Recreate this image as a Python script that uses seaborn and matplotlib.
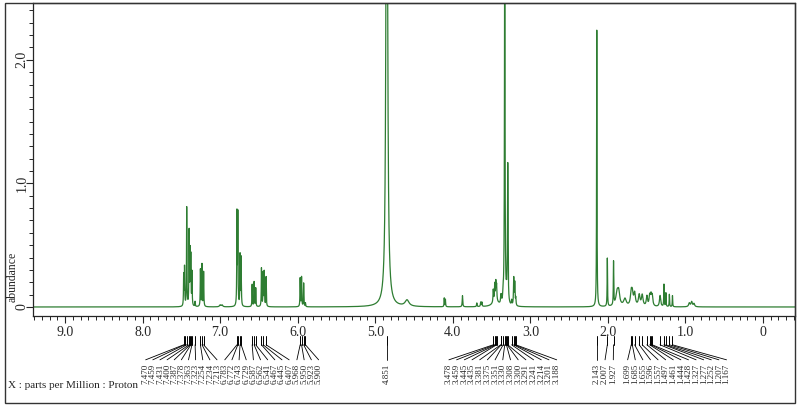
import numpy as np
import pandas as pd
import matplotlib
matplotlib.use('Agg')
import matplotlib.pyplot as plt
from matplotlib.ticker import MultipleLocator, FixedLocator
import seaborn as sns

# peak list: position (ppm), height (abundance), half width (ppm)
peak_ppm = [7.470, 7.459, 7.431, 7.400, 7.387, 7.378, 7.363, 7.323, 7.254, 7.234, 7.213,
            7.000, 6.975,
            6.783, 6.772, 6.743, 6.729, 6.587, 6.562, 6.541, 6.467, 6.445, 6.431, 6.407,
            5.968, 5.950, 5.923, 5.900,
            4.851, 4.590, 4.110, 4.095, 3.875, 3.690, 3.640, 3.625,
            3.478, 3.459, 3.445, 3.435, 3.450, 3.381, 3.375, 3.351, 3.330, 3.308, 3.300, 3.291,
            3.241, 3.214, 3.201, 3.188,
            2.143, 2.007, 1.927, 1.880, 1.860, 1.780,
            1.699, 1.685, 1.655, 1.596, 1.557, 1.497, 1.461, 1.444, 1.428, 1.327,
            1.277, 1.252, 1.207, 1.167, 0.950, 0.920, 0.890]
peak_height = [0.25, 0.31, 0.80, 0.60, 0.42, 0.38, 0.27, 0.04, 0.30, 0.34, 0.28,
               0.015, 0.015,
               0.74, 0.73, 0.41, 0.39, 0.18, 0.20, 0.15, 0.31, 0.27, 0.28, 0.24,
               0.23, 0.24, 0.19, 0.03,
               6.0, 0.05, 0.07, 0.06, 0.09, 0.03, 0.035, 0.035,
               0.10, 0.13, 0.14, 0.12, 0.05, 0.05, 0.05, 0.08, 3.2, 0.05, 0.05, 1.12,
               0.04, 0.22, 0.18, 0.06,
               2.24, 0.39, 0.35, 0.11, 0.09, 0.06,
               0.10, 0.09, 0.10, 0.09, 0.09, 0.08, 0.08, 0.08, 0.08, 0.09,
               0.18, 0.11, 0.10, 0.09, 0.03, 0.04, 0.025]
peak_hwhm = [0.003] * 11 + [0.01, 0.01] + [0.003] * 11 + [0.003] * 4 + \
            [0.010, 0.030, 0.003, 0.003, 0.004, 0.004, 0.004, 0.004] + \
            [0.004, 0.004, 0.004, 0.004, 0.040, 0.004, 0.004, 0.004, 0.004, 0.004, 0.004, 0.004] + \
            [0.004] * 4 + \
            [0.003, 0.003, 0.003, 0.020, 0.015, 0.020] + \
            [0.012] * 5 + [0.009] * 5 + [0.003] * 4 + [0.010] * 3

# picked peaks printed under the axis
picked_arom1 = [7.470, 7.459, 7.431, 7.400, 7.387, 7.378, 7.363, 7.323, 7.254, 7.234, 7.213]
picked_arom2 = [6.783, 6.772, 6.743, 6.729, 6.587, 6.562, 6.541, 6.467, 6.445, 6.407]
picked_olef = [5.968, 5.950, 5.923, 5.900]
picked_water = [4.851]
picked_oxy = [3.478, 3.459, 3.445, 3.435, 3.381, 3.375, 3.351, 3.330, 3.308, 3.300, 3.291,
              3.241, 3.214, 3.201, 3.188]
picked_me = [2.143, 2.007, 1.927]
picked_alk = [1.699, 1.685, 1.655, 1.596, 1.557, 1.497, 1.461, 1.444, 1.428, 1.327,
              1.277, 1.252, 1.207, 1.167]

sns.set_style("ticks")
plt.rcParams['font.family'] = ['Liberation Serif', 'DejaVu Serif']

# spectrum as a sum of lorentzian lines
ppm = np.linspace(9.45, -0.45, 24000)
intensity = np.zeros_like(ppm)
for p, h, w in zip(peak_ppm, peak_height, peak_hwhm):
    intensity += h / (1 + ((ppm - p) / w) ** 2)
spec = pd.DataFrame({'ppm': ppm, 'abundance': intensity})

fig = plt.figure(figsize=(8, 4.07), dpi=100)
ax = fig.add_axes([33 / 800, 1 - 316 / 407, 762 / 800, 313 / 407])
sns.lineplot(data=spec, x='ppm', y='abundance', ax=ax, color='#2e7d32',
             linewidth=0.9, estimator=None, sort=False)

ax.set_xlabel('')
ax.set_ylabel('')

ax.xaxis.set_major_locator(FixedLocator(range(10)))
ax.set_xticklabels(['0'] + ['%.1f' % v for v in range(1, 10)])
ax.xaxis.set_minor_locator(MultipleLocator(0.1))
ax.yaxis.set_major_locator(FixedLocator([0, 1, 2]))
ax.set_yticklabels(['0', '1.0', '2.0'])
ax.yaxis.set_minor_locator(MultipleLocator(0.1))
ax.tick_params(which='major', length=5, width=0.8, labelsize=10)
ax.tick_params(which='minor', length=3, width=0.7)
ax.tick_params(axis='x', pad=2)
ax.tick_params(axis='y', pad=3)
for lab in ax.get_yticklabels():
    lab.set_rotation(90)
    lab.set_ha('center')
    lab.set_va('center')
for s in ax.spines.values():
    s.set_linewidth(0.9)

# peak picking labels under the axis
trans = ax.get_xaxis_transform()
label_groups = [picked_arom1, picked_arom2, picked_olef, picked_water, picked_oxy, picked_me, picked_alk]
label_spans = [(7.96, 7.04), (6.94, 6.11), (6.01, 5.73), None, (4.05, 2.66), (2.143, 1.93), (1.745, 0.47)]
y_bar_top, y_bar_bot, y_line_end, y_text = -0.064, -0.092, -0.140, -0.152
for group, span in zip(label_groups, label_spans):
    if span is None:
        xs = group
    else:
        xs = np.linspace(span[0], span[1], len(group))
    for p, xl in zip(group, xs):
        ax.plot([p, p], [y_bar_top, y_bar_bot], transform=trans, color='black',
                lw=0.7, clip_on=False)
        ax.plot([p, xl], [y_bar_bot, y_line_end], transform=trans, color='black',
                lw=0.6, clip_on=False)
        ax.text(xl, y_text, '%.3f' % p, transform=trans, rotation=90,
                ha='center', va='top', fontsize=6.5)

ax.set_xlim(9.413, -0.413)
ax.set_ylim(-0.073, 2.46)

fig.text(13 / 800, 1 - 302 / 407, 'abundance', rotation=90, ha='center', va='bottom', fontsize=8.5)
fig.text(8 / 800, 1 - 386 / 407, 'X : parts per Million : Proton', ha='left', va='center', fontsize=8)
fig.add_artist(plt.Rectangle((5 / 800, 4 / 407), 790 / 800, 400 / 407, transform=fig.transFigure,
                             fill=False, lw=1.0, ec='#333333'))

fig.savefig('out.png', dpi=100)
